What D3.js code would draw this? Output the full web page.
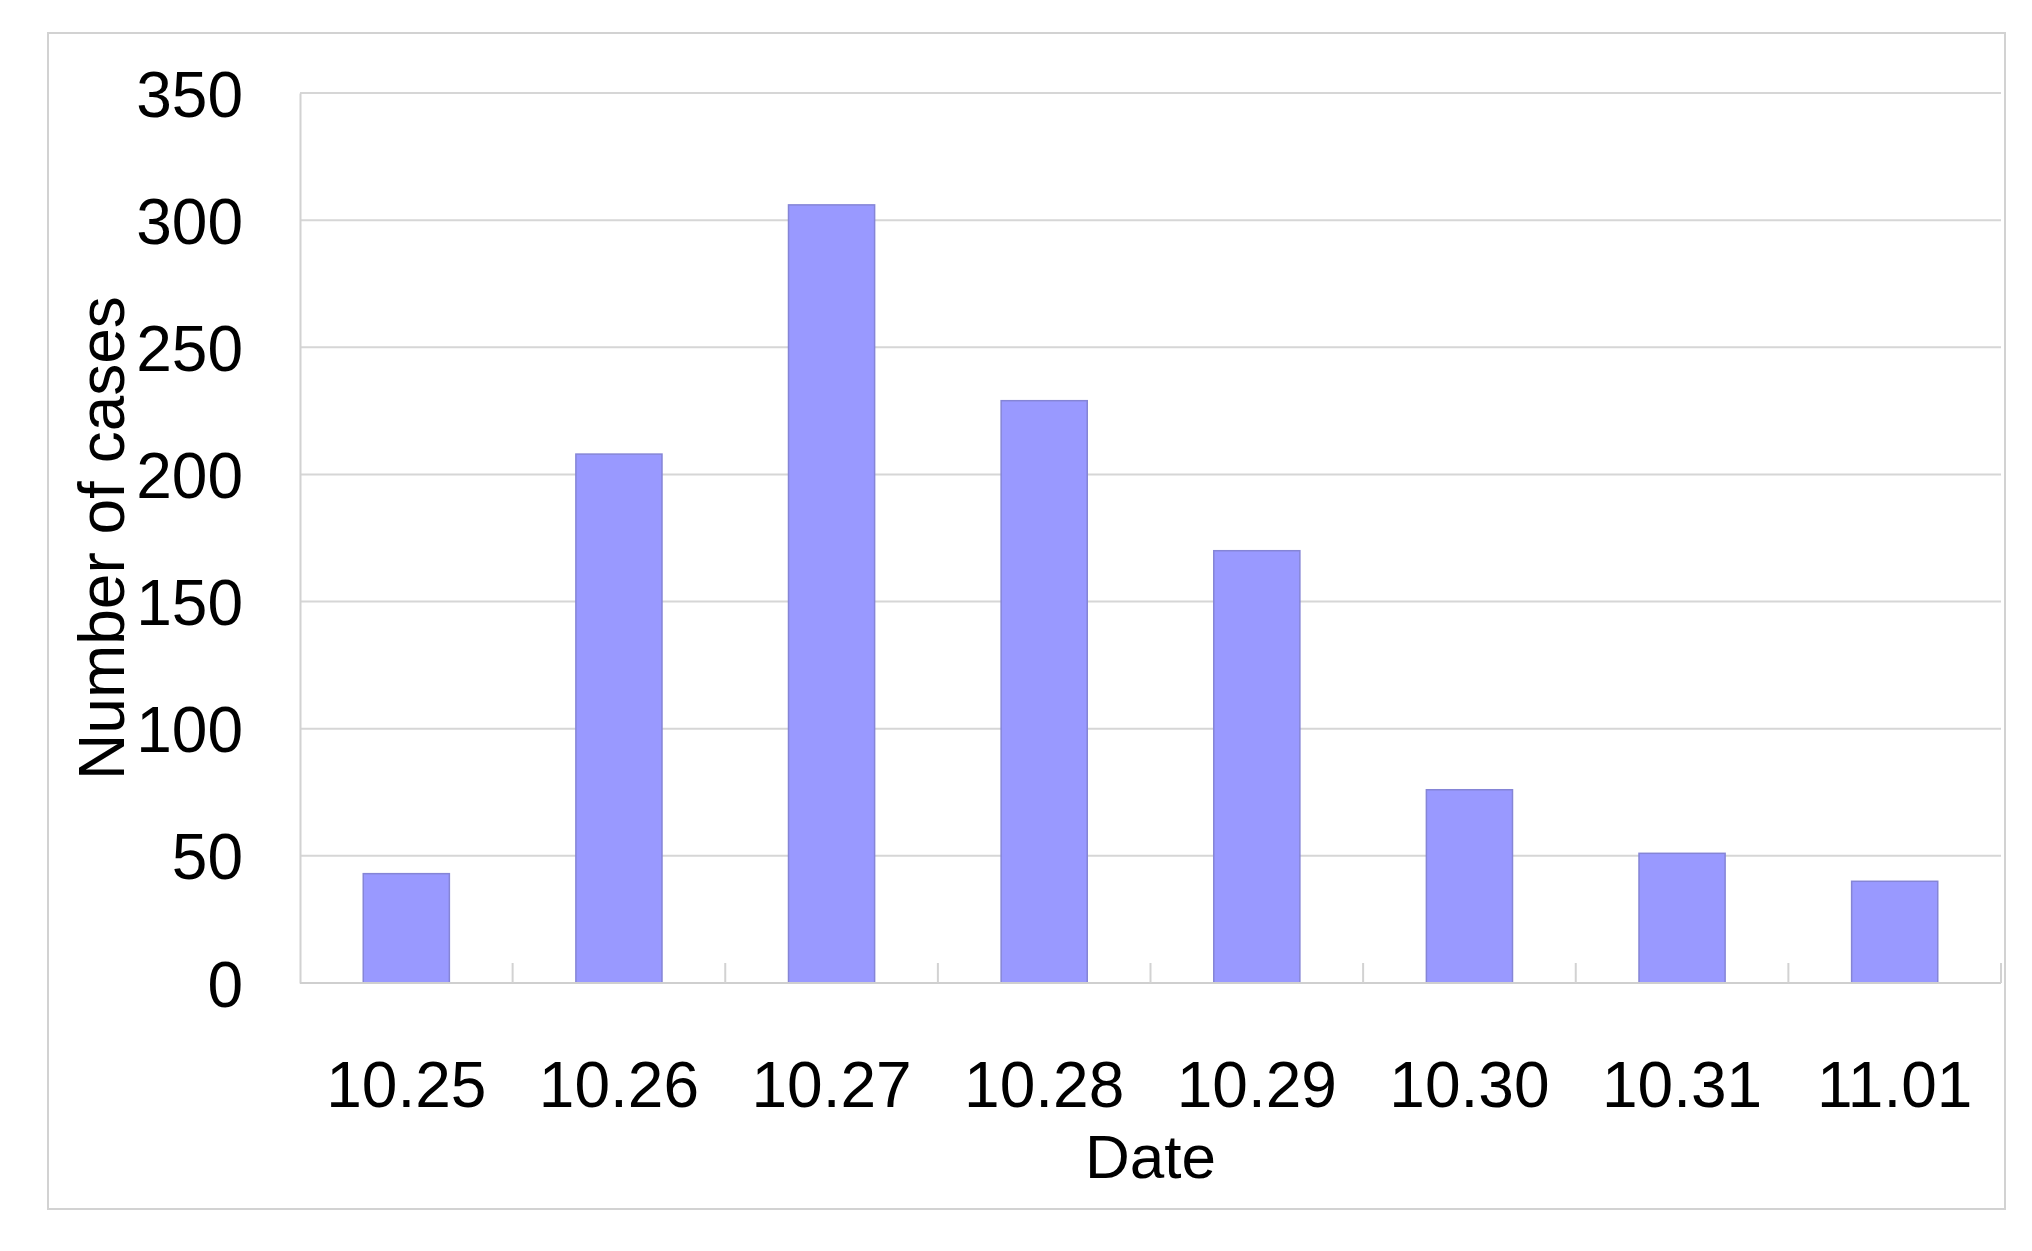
<!DOCTYPE html>
<html>
<head>
<meta charset="utf-8">
<script src="https://cdn.jsdelivr.net/npm/d3@7"></script>
<style>
  body { margin: 0; background: #fff; }
  text { font-family: "Liberation Sans", Arial, sans-serif; fill: #000; }
</style>
</head>
<body>
<div id="chart"></div>
<script>
// data
var dates = ["10.25", "10.26", "10.27", "10.28", "10.29", "10.30", "10.31", "11.01"];
var cases = [43, 208, 306, 229, 170, 76, 51, 40];
var yTicks = [0, 50, 100, 150, 200, 250, 300, 350];

var W = 2032, H = 1251;
var margin = { top: 93, right: 31, bottom: 268, left: 300 },
    w = W - margin.left - margin.right,
    h = H - margin.top - margin.bottom;

var svg = d3.select("#chart").append("svg")
    .attr("width", W)
    .attr("height", H);

// outer frame
svg.append("rect")
    .attr("x", 48).attr("y", 33)
    .attr("width", 1957).attr("height", 1176)
    .attr("fill", "none")
    .attr("stroke", "#d2d2d2")
    .attr("stroke-width", 2);

var g = svg.append("g")
    .attr("transform", "translate(" + margin.left + "," + margin.top + ")");

var slot = d3.scaleBand().domain(dates).range([0, w]).padding(0);
var x = d3.scaleBand().domain(dates).range([0, w])
    .paddingInner(0.595).paddingOuter(0.2975);
var y = d3.scaleLinear().domain([0, 350]).range([h, 0]);

// gridlines
g.selectAll("line.grid")
    .data(yTicks.filter(function(d) { return d > 0; }))
    .enter().append("line")
    .attr("class", "grid")
    .attr("x1", 0).attr("x2", w)
    .attr("y1", function(d) { return y(d); })
    .attr("y2", function(d) { return y(d); })
    .attr("stroke", "#d6d6d6")
    .attr("stroke-width", 2);

// bars
g.selectAll("rect.bar")
    .data(cases)
    .enter().append("rect")
    .attr("class", "bar")
    .attr("x", function(d, i) { return x(dates[i]); })
    .attr("y", function(d) { return y(d); })
    .attr("width", x.bandwidth())
    .attr("height", function(d) { return h - y(d); })
    .attr("fill", "#9999ff")
    .attr("stroke", "#8585d6")
    .attr("stroke-width", 1.5);

// y axis
var yAxis = d3.axisLeft(y).tickValues(yTicks).tickSize(0).tickPadding(57);
var ya = g.append("g").call(yAxis);
ya.select(".domain").attr("stroke", "#d2d2d2").attr("stroke-width", 2);
ya.selectAll("text")
    .style("font-size", "64px")
    .attr("dy", "0.36em");

// x axis line and inner tick marks between categories
g.append("line")
    .attr("x1", 0).attr("x2", w)
    .attr("y1", h).attr("y2", h)
    .attr("stroke", "#cfcfcf")
    .attr("stroke-width", 2);

g.selectAll("line.xtick")
    .data(dates.slice(1).concat(["end"]))
    .enter().append("line")
    .attr("class", "xtick")
    .attr("x1", function(d, i) { return slot(dates[i]) + slot.step(); })
    .attr("x2", function(d, i) { return slot(dates[i]) + slot.step(); })
    .attr("y1", h).attr("y2", h - 20)
    .attr("stroke", "#d2d2d2")
    .attr("stroke-width", 2);

// x tick labels
g.selectAll("text.xlab")
    .data(dates)
    .enter().append("text")
    .attr("class", "xlab")
    .attr("x", function(d) { return slot(d) + slot.bandwidth() / 2; })
    .attr("y", h + 124)
    .attr("text-anchor", "middle")
    .style("font-size", "64px")
    .text(function(d) { return d; });

// axis titles
g.append("text")
    .attr("x", w / 2)
    .attr("y", h + 195)
    .attr("text-anchor", "middle")
    .style("font-size", "62px")
    .text("Date");

g.append("text")
    .attr("transform", "translate(" + (124 - margin.left) + "," + (h / 2) + ") rotate(-90)")
    .attr("text-anchor", "middle")
    .style("font-size", "64px")
    .text("Number of cases");
</script>
</body>
</html>
